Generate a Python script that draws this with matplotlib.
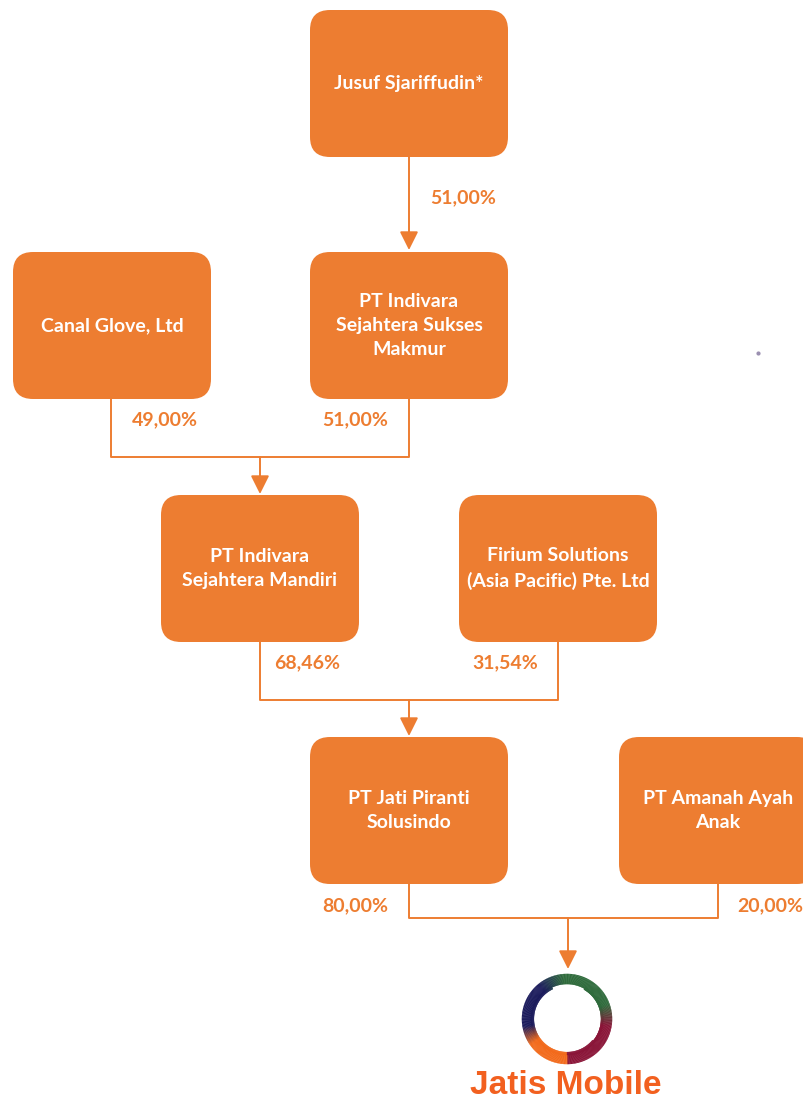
import numpy as np
import matplotlib
matplotlib.use("Agg")
import matplotlib.pyplot as plt
from matplotlib.patches import FancyBboxPatch
from matplotlib.colors import to_rgb

# chart content
entities = ["Jusuf Sjariffudin*", "Canal Glove, Ltd", "PT Indivara\nSejahtera Sukses\nMakmur",
            "PT Indivara\nSejahtera Mandiri", "Firium Solutions\n(Asia Pacific) Pte. Ltd",
            "PT Jati Piranti\nSolusindo", "PT Amanah Ayah\nAnak"]
shares = ["51,00%", "49,00%", "51,00%", "68,46%", "31,54%", "80,00%", "20,00%"]
company = "Jatis Mobile"

# layout (pixel coords, y down)
BOX_W, BOX_H = 198, 147
box_pos = [(310, 10), (13, 252), (310, 252), (161, 495), (459, 495), (310, 737), (619, 737)]
share_pos = [(463, 198), (165, 420), (355, 420), (307, 663), (505, 663), (355, 906), (770, 906)]

ORANGE = "#ED7D31"
LOGO_RED = "#F2601F"

fig = plt.figure(figsize=(8.04, 11.02), dpi=100)
ax = fig.add_axes([0, 0, 1, 1])
ax.set_xlim(0, 804)
ax.set_ylim(1102, 0)
ax.axis("off")
plt.rcParams['font.family'] = ['Lato', 'DejaVu Sans']

for name, (x, y) in zip(entities, box_pos):
    ax.add_patch(FancyBboxPatch((x, y), BOX_W, BOX_H,
                                boxstyle="round,pad=0,rounding_size=20",
                                fc=ORANGE, ec=ORANGE, lw=0, zorder=2))
    ax.text(x + BOX_W / 2, y + BOX_H / 2, name, color="white", fontsize=14,
            fontweight="bold", ha="center", va="center", linespacing=1.5, zorder=3)

for s, (x, y) in zip(shares, share_pos):
    ax.text(x, y, s, color=ORANGE, fontsize=14, fontweight="bold",
            ha="center", va="center")

def line(xs, ys):
    ax.plot(xs, ys, color=ORANGE, lw=1.4, solid_capstyle="butt", zorder=1)

def arrow(x, y0, y1):
    ax.annotate("", xy=(x, y1), xytext=(x, y0),
                arrowprops=dict(arrowstyle="-|>,head_length=0.8,head_width=0.4",
                                color=ORANGE, lw=1.4, shrinkA=0, shrinkB=0,
                                mutation_scale=14), zorder=1)

# connectors
arrow(409, 157, 250)
line([111, 111, 409, 409], [399, 457, 457, 399])
arrow(260, 457, 494)
line([260, 260, 558, 558], [641, 700, 700, 641])
arrow(409, 700, 736)
line([409, 409, 718, 718], [883, 918, 918, 883])
arrow(568, 918, 969)

# logo swirl
cx, cy = 567, 1019
stops = [(-90, "#8a1538"), (-10, "#8a1538"), (20, "#2f6b3c"), (95, "#2f6b3c"),
         (130, "#1b1b5c"), (190, "#1b1b5c"), (215, "#f26a1b"), (270, "#f26a1b")]
angs = np.array([a for a, _ in stops], dtype=float)
cols = np.array([to_rgb(c) for _, c in stops])
for r, w, a0, a1 in [(40, 7.5, -90, 270), (34.5, 2.2, 115, 320), (35, 1.6, -40, 60)]:
    t = np.linspace(a0, a1, 360)
    for i in range(len(t) - 1):
        tm = (t[i] + t[i + 1]) / 2
        tt = ((tm + 90) % 360) - 90
        c = [np.interp(tt, angs, cols[:, k]) for k in range(3)]
        seg = np.radians([t[i], t[i + 1] + 0.6])
        ax.plot(cx + r * np.cos(seg), cy - r * np.sin(seg), color=c, lw=w,
                solid_capstyle="butt", zorder=2)

ax.text(566, 1085, company, color=LOGO_RED, fontsize=24, fontweight="bold",
        family=["Liberation Sans", "DejaVu Sans"], ha="center", va="center")

# stray dot
ax.plot([758], [353], marker="o", ms=2, color="#9a8fb0", lw=0)

fig.savefig("out.png", dpi=100)
